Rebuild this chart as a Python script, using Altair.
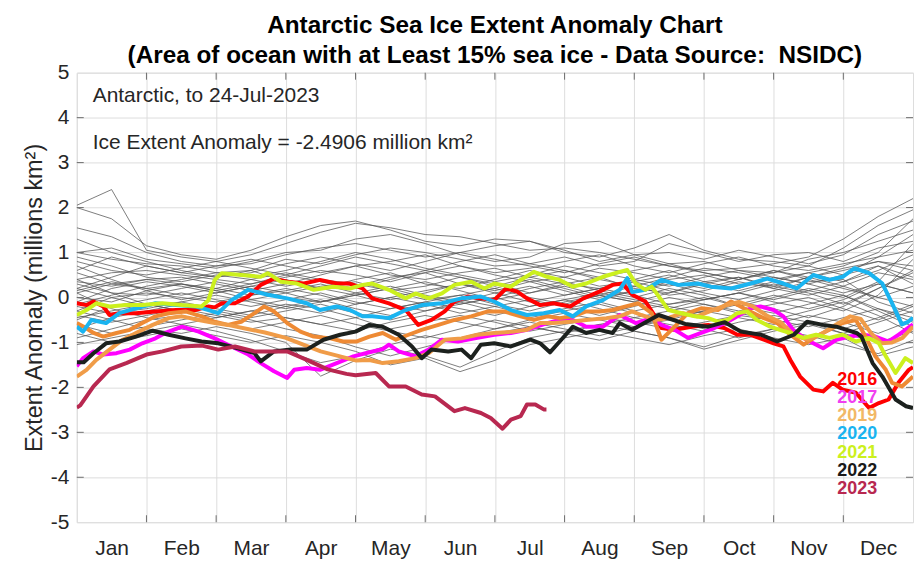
import altair as alt
import pandas as pd

# ---------------- data ----------------
MONTHS = ["Jan", "Feb", "Mar", "Apr", "May", "Jun", "Jul", "Aug", "Sep", "Oct", "Nov", "Dec"]
MONTH_BOUNDS = [0, 1, 2, 3, 4, 5, 6, 7, 8, 9, 10, 11, 12]
Y_TICKS = [-5, -4, -3, -2, -1, 0, 1, 2, 3, 4, 5]

# historical years (grey), sampled twice a month (x in months since 1 Jan)
GRAY_M = [0, 0.5, 1, 1.5, 2, 2.5, 3, 3.5, 4, 4.5, 5, 5.5, 6, 6.5, 7, 7.5, 8, 8.5, 9, 9.5, 10, 10.5, 11, 11.5, 12]
GRAY_LINES = [
    [2.05, 2.40, 1.05, 0.90, 0.80, 0.95, 1.20, 1.45, 1.65, 1.55, 1.40, 1.35, 1.20, 1.05, 1.10, 1.00, 0.85, 0.70, 0.60, 0.65, 0.75, 0.90, 1.30, 1.80, 2.20],
    [2.00, 1.75, 1.15, 0.95, 0.85, 1.05, 1.35, 1.60, 1.70, 1.50, 1.25, 1.15, 1.30, 1.25, 1.00, 0.90, 1.10, 1.40, 1.05, 0.85, 0.80, 0.70, 1.10, 1.60, 1.95],
    [1.55, 1.35, 1.00, 0.80, 0.70, 0.75, 0.95, 1.10, 1.20, 1.05, 0.90, 1.00, 1.15, 1.25, 1.05, 0.80, 0.95, 1.00, 0.85, 1.05, 0.90, 0.75, 0.95, 1.40, 1.70],
    [1.00, 1.10, 0.85, 0.75, 0.65, 0.80, 1.00, 1.05, 1.30, 1.40, 1.20, 0.95, 0.80, 0.90, 1.20, 1.25, 0.95, 0.75, 0.80, 0.60, 0.55, 0.85, 1.00, 1.25, 1.50],
    [1.00, 0.85, 0.75, 0.70, 0.55, 0.60, 0.85, 0.75, 0.95, 1.10, 1.00, 0.85, 0.70, 0.75, 0.90, 0.70, 0.80, 1.20, 1.00, 0.80, 0.95, 1.00, 0.80, 1.10, 1.25],
    [0.60, 0.90, 0.70, 0.55, 0.70, 0.85, 0.70, 0.55, 0.70, 0.80, 0.95, 0.70, 0.55, 0.65, 0.80, 0.95, 0.70, 0.55, 0.75, 0.90, 0.70, 0.60, 0.75, 0.90, 1.05],
    [0.40, 0.55, 0.60, 0.50, 0.40, 0.30, 0.45, 0.60, 0.50, 0.35, 0.55, 0.70, 0.50, 0.35, 0.45, 0.65, 0.55, 0.40, 0.50, 0.30, 0.25, 0.45, 0.60, 0.80, 0.70],
    [0.20, 0.45, 0.70, 0.55, 0.45, 0.60, 0.35, 0.20, 0.40, 0.55, 0.30, 0.20, 0.40, 0.60, 0.45, 0.25, 0.35, 0.50, 0.30, 0.15, 0.35, 0.55, 0.35, 0.60, 0.95],
    [0.90, 0.70, 0.45, 0.35, 0.50, 0.40, 0.25, 0.40, 0.30, 0.15, 0.25, 0.45, 0.30, 0.10, 0.30, 0.45, 0.20, 0.10, 0.35, 0.45, 0.20, 0.05, 0.25, 0.55, 0.40],
    [0.10, 0.30, 0.40, 0.45, 0.30, 0.15, 0.30, 0.50, 0.70, 0.50, 0.40, 0.55, 0.65, 0.45, 0.30, 0.20, 0.40, 0.60, 0.35, 0.20, 0.45, 0.30, 0.10, 0.30, 0.10],
    [-0.10, 0.20, 0.35, 0.25, 0.10, 0.25, 0.40, 0.20, 0.05, 0.20, 0.35, 0.15, -0.05, 0.10, 0.25, 0.05, -0.10, 0.10, 0.30, 0.45, 0.25, 0.10, -0.15, 0.20, 0.55],
    [0.55, 0.30, 0.20, 0.30, 0.20, 0.05, 0.15, 0.30, 0.10, -0.05, 0.10, 0.30, 0.20, 0.40, 0.20, 0.00, 0.15, 0.30, 0.10, -0.05, 0.15, 0.35, 0.40, -0.10, -0.35],
    [0.30, 0.10, 0.05, 0.20, 0.35, 0.20, 0.00, -0.10, 0.10, 0.25, 0.05, -0.10, 0.10, 0.25, 0.05, 0.20, 0.35, 0.15, -0.05, 0.10, 0.30, 0.15, 0.00, 0.35, 1.20],
    [0.00, -0.10, 0.15, 0.30, 0.15, -0.05, 0.10, 0.25, 0.35, 0.15, -0.05, 0.05, 0.20, 0.00, -0.15, 0.05, 0.25, 0.05, 0.15, 0.35, 0.20, 0.45, 0.25, 0.00, -0.20],
    [-0.30, 0.00, 0.10, 0.00, -0.10, 0.05, 0.20, 0.05, -0.15, 0.00, 0.15, 0.30, 0.10, -0.10, 0.05, 0.20, 0.05, -0.15, -0.05, 0.10, -0.05, 0.15, 0.35, 0.70, 0.45],
    [0.70, 0.40, 0.15, -0.05, 0.10, 0.25, 0.10, -0.10, 0.05, 0.20, 0.00, -0.15, 0.00, 0.20, 0.35, 0.15, 0.00, 0.20, 0.05, -0.20, 0.00, 0.20, 0.05, -0.30, -0.65],
    [-0.50, -0.20, -0.05, 0.10, -0.05, -0.20, -0.05, 0.10, -0.10, -0.25, -0.10, 0.05, -0.15, -0.30, -0.10, 0.05, -0.10, -0.25, -0.05, 0.10, -0.10, -0.25, -0.05, 0.30, 0.10],
    [0.20, 0.00, -0.20, -0.10, 0.05, -0.10, -0.25, -0.10, 0.05, -0.15, -0.30, -0.15, 0.00, -0.20, -0.05, 0.10, -0.05, -0.20, -0.35, -0.15, 0.05, -0.10, -0.30, 0.05, 0.85],
    [-0.20, -0.35, -0.25, -0.10, -0.25, -0.40, -0.20, -0.05, -0.25, -0.40, -0.20, -0.05, -0.20, -0.40, -0.25, -0.10, -0.30, -0.15, 0.00, -0.20, -0.35, -0.15, 0.05, -0.25, -0.55],
    [0.40, 0.10, -0.15, -0.30, -0.20, -0.05, -0.20, -0.35, -0.15, 0.00, -0.15, -0.35, -0.20, -0.05, -0.20, -0.40, -0.20, 0.00, -0.15, -0.30, -0.15, 0.00, -0.25, -0.50, -0.20],
    [-0.70, -0.45, -0.30, -0.15, -0.30, -0.45, -0.30, -0.15, -0.35, -0.50, -0.30, -0.10, -0.30, -0.45, -0.30, -0.15, -0.35, -0.50, -0.30, -0.10, -0.25, -0.45, -0.20, 0.20, 0.60],
    [-0.40, -0.55, -0.40, -0.25, -0.40, -0.55, -0.45, -0.60, -0.75, -0.55, -0.40, -0.55, -0.70, -0.50, -0.35, -0.50, -0.65, -0.45, -0.30, -0.45, -0.60, -0.40, -0.55, -0.80, -0.50],
    [-0.90, -0.70, -0.50, -0.40, -0.55, -0.70, -0.55, -0.40, -0.60, -0.75, -0.90, -0.70, -0.50, -0.65, -0.80, -0.60, -0.45, -0.60, -0.75, -0.55, -0.40, -0.55, -0.70, -0.45, -0.15],
    [-0.60, -0.80, -0.65, -0.50, -0.35, -0.50, -0.70, -0.85, -1.10, -1.30, -1.10, -0.90, -0.70, -0.55, -0.70, -0.85, -0.65, -0.50, -0.70, -0.90, -0.70, -0.55, -0.80, -1.00, -0.75],
    [-1.05, -0.90, -0.75, -0.60, -0.75, -0.95, -1.20, -1.45, -1.30, -1.05, -0.85, -1.00, -0.80, -0.65, -0.80, -0.95, -0.75, -0.90, -1.10, -0.85, -0.70, -0.85, -1.05, -1.25, -0.95],
    [-0.30, -0.50, -0.70, -0.80, -0.65, -0.80, -1.00, -1.75, -1.40, -1.15, -1.30, -1.55, -1.20, -0.90, -0.75, -0.60, -0.75, -0.90, -1.15, -0.95, -0.75, -0.60, -0.80, -0.55, -0.30],
    [-0.80, -1.00, -0.85, -0.70, -0.85, -1.00, -0.85, -1.00, -1.20, -1.50, -1.35, -1.65, -1.40, -1.05, -0.90, -0.75, -0.90, -1.05, -0.85, -0.70, -0.90, -1.05, -0.90, -1.30, -1.10],
    [0.10, -0.25, -0.45, -0.60, -0.45, -0.30, -0.45, -0.60, -0.45, -0.70, -0.55, -0.40, -0.55, -0.75, -0.60, -0.45, -0.55, -0.70, -0.55, -0.40, -0.50, -0.65, -0.45, -0.25, -0.45],
    [0.80, 0.60, 0.50, 0.65, 0.80, 0.65, 0.50, 0.70, 0.90, 0.75, 0.60, 0.80, 0.95, 0.75, 0.60, 0.45, 0.60, 0.75, 0.55, 0.40, 0.55, 0.70, 0.50, 0.90, 1.40],
    [-0.15, 0.05, 0.25, 0.40, 0.55, 0.45, 0.60, 0.80, 1.00, 0.85, 0.65, 0.50, 0.35, 0.50, 0.70, 0.55, 0.40, 0.25, 0.45, 0.60, 0.45, 0.30, 0.50, 0.70, 0.30],
    [0.35, 0.25, 0.40, 0.30, 0.15, 0.30, 0.50, 0.35, 0.20, 0.40, 0.60, 0.45, 0.25, 0.45, 0.60, 0.40, 0.25, 0.45, 0.65, 0.55, 0.40, 0.55, 0.70, 1.00, 1.75],
    [1.30, 1.00, 0.80, 0.60, 0.45, 0.55, 0.75, 0.90, 0.75, 0.60, 0.80, 1.00, 0.85, 0.70, 0.55, 0.75, 0.90, 0.70, 0.55, 0.40, 0.60, 0.45, 0.65, 0.80, 0.60],
    [-0.45, -0.30, -0.15, -0.30, -0.45, -0.30, -0.15, -0.25, -0.45, -0.25, -0.10, -0.25, -0.40, -0.20, -0.05, -0.25, -0.45, -0.30, -0.15, -0.35, -0.50, -0.30, -0.10, -0.40, -0.80],
    [0.15, 0.35, 0.20, 0.05, 0.20, 0.40, 0.55, 0.40, 0.25, 0.45, 0.55, 0.30, 0.15, 0.35, 0.15, -0.05, 0.15, 0.35, 0.20, 0.40, 0.60, 0.40, 0.20, 0.00, 0.25],
]

Y2016_M = [0, 0.14, 0.24, 0.38, 0.47, 0.61, 0.85, 1.13, 1.42, 1.7, 1.89, 1.98, 2.08, 2.27, 2.46, 2.64, 2.83, 3.02, 3.26, 3.49, 3.73, 3.92, 4.1, 4.24, 4.48, 4.72, 4.9, 5.09, 5.28, 5.42, 5.61, 5.8, 5.99, 6.16, 6.32, 6.46, 6.65, 6.84, 7.08, 7.27, 7.5, 7.69, 7.83, 7.97, 8.16, 8.3, 8.39, 8.58, 8.82, 9.06, 9.29, 9.48, 9.67, 9.86, 10.0, 10.14, 10.24, 10.38, 10.57, 10.71, 10.85, 10.99, 11.18, 11.37, 11.51, 11.65, 11.79, 11.94, 12.0]
Y2016_V = [-0.13, -0.17, -0.09, -0.2, -0.39, -0.35, -0.35, -0.31, -0.28, -0.28, -0.2, -0.22, -0.13, -0.13, 0.02, 0.28, 0.42, 0.35, 0.31, 0.39, 0.31, 0.31, 0.2, -0.02, -0.13, -0.28, -0.61, -0.5, -0.31, -0.09, 0.02, -0.02, -0.06, 0.2, 0.13, -0.02, -0.17, -0.13, -0.2, -0.02, 0.13, 0.28, 0.31, 0.06, -0.09, -0.42, -0.68, -0.72, -0.65, -0.61, -0.68, -0.83, -0.83, -0.94, -1.02, -1.09, -1.39, -1.76, -2.05, -2.09, -1.9, -2.05, -2.12, -2.46, -2.35, -2.27, -1.9, -1.61, -1.55]

Y2017_M = [0, 0.09, 0.24, 0.38, 0.57, 0.76, 0.94, 1.13, 1.27, 1.51, 1.75, 1.98, 2.22, 2.46, 2.64, 2.83, 3.02, 3.12, 3.3, 3.49, 3.73, 3.97, 4.2, 4.39, 4.48, 4.62, 4.86, 5.05, 5.24, 5.47, 5.71, 5.99, 6.23, 6.46, 6.75, 6.93, 7.12, 7.31, 7.55, 7.79, 8.02, 8.25, 8.39, 8.58, 8.77, 8.96, 9.15, 9.34, 9.48, 9.67, 9.81, 10.0, 10.14, 10.28, 10.47, 10.71, 10.9, 11.09, 11.28, 11.46, 11.65, 11.79, 12.0]
Y2017_V = [-1.53, -1.35, -1.2, -1.27, -1.24, -1.16, -1.02, -0.91, -0.79, -0.65, -0.76, -0.91, -1.09, -1.27, -1.46, -1.64, -1.79, -1.61, -1.57, -1.61, -1.46, -1.31, -1.22, -1.15, -1.05, -1.2, -1.31, -1.16, -0.94, -0.98, -0.91, -0.83, -0.79, -0.72, -0.57, -0.5, -0.5, -0.65, -0.65, -0.39, -0.57, -0.46, -0.61, -0.72, -0.9, -0.79, -0.68, -0.54, -0.42, -0.24, -0.2, -0.28, -0.42, -0.72, -0.94, -1.13, -0.94, -0.87, -0.83, -0.87, -0.98, -0.83, -0.6]

Y2018_M = [0, 0.1, 0.24, 0.38, 0.57, 0.76, 0.94, 1.13, 1.32, 1.56, 1.79, 1.98, 2.17, 2.36, 2.55, 2.69, 2.83, 3.02, 3.21, 3.4, 3.64, 3.82, 4.01, 4.2, 4.39, 4.58, 4.76, 4.95, 5.19, 5.42, 5.66, 5.9, 6.13, 6.37, 6.56, 6.75, 6.93, 7.12, 7.31, 7.5, 7.69, 7.88, 8.06, 8.25, 8.39, 8.58, 8.77, 8.96, 9.2, 9.39, 9.62, 9.86, 10.05, 10.24, 10.43, 10.61, 10.8, 10.99, 11.18, 11.32, 11.46, 11.61, 11.7, 11.84, 12.0]
Y2018_V = [-0.57, -0.65, -0.79, -0.87, -0.79, -0.72, -0.57, -0.42, -0.35, -0.31, -0.42, -0.54, -0.61, -0.54, -0.35, -0.2, -0.31, -0.57, -0.76, -0.87, -0.91, -0.98, -0.98, -0.87, -0.79, -0.94, -0.83, -0.72, -0.61, -0.5, -0.42, -0.31, -0.31, -0.42, -0.5, -0.42, -0.46, -0.42, -0.31, -0.31, -0.28, -0.2, -0.13, -0.35, -0.94, -0.65, -0.35, -0.24, -0.28, -0.09, -0.28, -0.46, -0.57, -0.83, -1.05, -0.87, -0.72, -0.57, -0.5, -0.87, -1.31, -1.61, -1.9, -1.98, -1.76]

Y2019_M = [0, 0.14, 0.28, 0.47, 0.66, 0.85, 1.09, 1.32, 1.51, 1.75, 1.98, 2.2, 2.45, 2.7, 3.0, 3.25, 3.5, 3.75, 4.0, 4.2, 4.39, 4.62, 4.86, 5.05, 5.28, 5.52, 5.75, 5.99, 6.27, 6.46, 6.65, 6.84, 7.08, 7.31, 7.6, 7.79, 7.97, 8.1, 8.3, 8.5, 8.7, 8.9, 9.1, 9.3, 9.5, 9.7, 9.9, 10.1, 10.3, 10.5, 10.7, 10.9, 11.1, 11.25, 11.4, 11.55, 11.7, 11.85, 12.0]
Y2019_V = [-1.76, -1.61, -1.39, -1.16, -0.94, -0.79, -0.61, -0.46, -0.42, -0.5, -0.57, -0.62, -0.7, -0.78, -0.9, -1.05, -1.2, -1.3, -1.4, -1.39, -1.46, -1.42, -1.35, -1.24, -0.94, -0.91, -0.83, -0.79, -0.76, -0.72, -0.57, -0.57, -0.54, -0.5, -0.46, -0.42, -0.31, -0.39, -0.5, -0.45, -0.35, -0.42, -0.3, -0.18, -0.1, -0.2, -0.4, -0.55, -0.85, -0.94, -0.8, -0.6, -0.42, -0.48, -0.8, -1.02, -1.0, -0.9, -0.65]

Y2020_M = [0, 0.09, 0.21, 0.42, 0.61, 0.85, 1.13, 1.42, 1.7, 1.89, 2.03, 2.22, 2.46, 2.74, 3.02, 3.3, 3.49, 3.73, 3.92, 4.1, 4.24, 4.48, 4.72, 4.95, 5.24, 5.52, 5.8, 5.99, 6.23, 6.46, 6.7, 6.93, 7.12, 7.31, 7.55, 7.79, 7.9, 7.97, 8.16, 8.39, 8.63, 8.91, 9.1, 9.39, 9.67, 9.91, 10.14, 10.33, 10.57, 10.8, 10.99, 11.16, 11.37, 11.56, 11.7, 11.84, 11.92, 12.0]
Y2020_V = [-0.65, -0.76, -0.5, -0.57, -0.35, -0.24, -0.13, -0.17, -0.2, -0.28, -0.35, -0.06, 0.17, 0.06, -0.02, -0.13, -0.28, -0.2, -0.28, -0.42, -0.42, -0.46, -0.28, -0.17, -0.13, -0.02, 0.02, -0.09, -0.28, -0.39, -0.35, -0.28, -0.42, -0.2, -0.06, 0.17, 0.43, 0.12, 0.17, 0.39, 0.28, 0.31, 0.24, 0.2, 0.31, 0.42, 0.31, 0.2, 0.5, 0.39, 0.46, 0.65, 0.54, 0.31, -0.13, -0.6, -0.55, -0.45]

Y2021_M = [0, 0.14, 0.28, 0.47, 0.71, 0.94, 1.23, 1.51, 1.79, 1.89, 1.98, 2.08, 2.36, 2.64, 2.74, 2.93, 3.16, 3.4, 3.68, 3.92, 4.1, 4.24, 4.48, 4.72, 4.86, 5.05, 5.24, 5.42, 5.66, 5.85, 5.99, 6.23, 6.37, 6.56, 6.75, 6.93, 7.12, 7.31, 7.55, 7.79, 7.9, 8.02, 8.16, 8.25, 8.39, 8.49, 8.68, 8.87, 9.06, 9.2, 9.34, 9.48, 9.62, 9.76, 9.95, 10.09, 10.24, 10.43, 10.61, 10.8, 10.99, 11.18, 11.37, 11.51, 11.61, 11.75, 11.89, 12.0]
Y2021_V = [-0.39, -0.28, -0.13, -0.2, -0.17, -0.17, -0.13, -0.17, -0.2, -0.06, 0.39, 0.54, 0.5, 0.46, 0.54, 0.35, 0.31, 0.17, 0.24, 0.2, 0.28, 0.31, 0.17, -0.02, 0.09, -0.02, 0.09, 0.28, 0.35, 0.2, 0.31, 0.24, 0.39, 0.57, 0.46, 0.39, 0.24, 0.31, 0.46, 0.57, 0.61, 0.31, 0.17, 0.24, -0.06, -0.28, -0.35, -0.42, -0.46, -0.54, -0.5, -0.35, -0.31, -0.5, -0.65, -0.72, -0.79, -0.9, -0.83, -0.9, -0.83, -0.98, -0.9, -1.02, -1.31, -1.68, -1.35, -1.46]

Y2022_M = [0, 0.1, 0.24, 0.42, 0.61, 0.85, 1.09, 1.32, 1.56, 1.79, 2.03, 2.31, 2.55, 2.64, 2.83, 3.07, 3.3, 3.54, 3.78, 4.0, 4.2, 4.39, 4.62, 4.81, 4.95, 5.09, 5.33, 5.52, 5.66, 5.8, 5.99, 6.23, 6.51, 6.65, 6.79, 6.93, 7.12, 7.31, 7.5, 7.69, 7.79, 7.97, 8.35, 8.73, 9.06, 9.3, 9.53, 9.82, 10.05, 10.29, 10.48, 10.71, 10.9, 11.19, 11.26, 11.42, 11.56, 11.75, 11.9, 12.0]
Y2022_V = [-1.44, -1.44, -1.24, -1.02, -0.98, -0.87, -0.74, -0.83, -0.91, -0.98, -1.02, -1.13, -1.24, -1.42, -1.2, -1.16, -1.16, -0.94, -0.83, -0.76, -0.61, -0.65, -0.83, -1.09, -1.35, -1.16, -1.2, -1.16, -1.35, -1.05, -1.02, -1.09, -0.94, -1.02, -1.22, -0.98, -0.65, -0.79, -0.72, -0.79, -0.57, -0.72, -0.39, -0.59, -0.65, -0.55, -0.76, -0.83, -0.98, -0.83, -0.54, -0.61, -0.65, -0.79, -0.87, -1.46, -1.76, -2.27, -2.42, -2.46]

Y2023_M = [0, 0.05, 0.24, 0.47, 0.71, 1.0, 1.23, 1.5, 1.8, 2.03, 2.27, 2.55, 2.8, 3.02, 3.3, 3.6, 3.87, 4.0, 4.29, 4.48, 4.72, 4.95, 5.14, 5.42, 5.57, 5.8, 5.94, 6.11, 6.23, 6.37, 6.46, 6.58, 6.7, 6.74]
Y2023_V = [-2.45, -2.4, -1.98, -1.6, -1.46, -1.27, -1.2, -1.09, -1.07, -1.16, -1.09, -1.2, -1.2, -1.2, -1.39, -1.6, -1.7, -1.73, -1.68, -1.98, -1.98, -2.16, -2.2, -2.53, -2.46, -2.57, -2.68, -2.92, -2.72, -2.64, -2.38, -2.38, -2.49, -2.49]

YEARS = ["2016", "2017", "2018", "2019", "2020", "2021", "2022", "2023"]
SERIES_M = [Y2016_M, Y2017_M, Y2018_M, Y2019_M, Y2020_M, Y2021_M, Y2022_M, Y2023_M]
SERIES_V = [Y2016_V, Y2017_V, Y2018_V, Y2019_V, Y2020_V, Y2021_V, Y2022_V, Y2023_V]
LINE_COLORS = ["#ff0000", "#ff00ff", "#ee8a34", "#f09c48", "#1ab4f0", "#ccf01e", "#1c211e", "#b82850"]

LEGEND_YEARS = ["2016", "2017", "2019", "2020", "2021", "2022", "2023"]
LEGEND_COLORS = ["#ff0000", "#f040f0", "#f2b866", "#1ab4f0", "#ccf01e", "#1a1a1a", "#b82850"]

TITLE_LINES = ["Antarctic Sea Ice Extent Anomaly Chart",
               "(Area of ocean with at Least 15% sea ice - Data Source:\u00a0 NSIDC)"]
NOTE_1 = "Antarctic, to 24-Jul-2023"
NOTE_2 = "Ice Extent Anomaly = -2.4906 million km\u00b2"
Y_TITLE = "Extent Anomaly (millions km\u00b2)"

# ---------------- chart ----------------
W, H = 839, 451
FONT = "Liberation Sans"
TXT = "#262626"
FRAME = "#6e6e6e"

xs = alt.Scale(domain=[0, 12], nice=False, zero=False)
ys = alt.Scale(domain=[-5, 5], nice=False, zero=False)

month_expr = "[" + ",".join("'%s'" % m for m in MONTHS) + "][datum.value]"
X = alt.X("m:Q", scale=xs, axis=alt.Axis(
    values=MONTH_BOUNDS[:-1], labelExpr=month_expr, labelOffset=W / 24,
    ticks=False, domain=False, grid=True, title=None, labelAngle=0,
    labelFontSize=21, labelFont=FONT, labelColor=TXT, labelPadding=15,
    labelFlush=False, labelOverlap=False, labelBound=False))
Y = alt.Y("v:Q", scale=ys, axis=alt.Axis(
    values=Y_TICKS, labelExpr="'' + datum.value", ticks=False, domain=False, grid=True,
    labelFontSize=21, labelFont=FONT, labelColor=TXT, labelPadding=8,
    title=Y_TITLE, titleFontSize=23.5, titleFont=FONT, titleColor=TXT,
    titleFontWeight="normal", titlePadding=4))

gray_rows = []
for gi, vals in enumerate(GRAY_LINES):
    for m, v in zip(GRAY_M, vals):
        gray_rows.append({"g": gi, "m": m, "v": v})
gray_df = pd.DataFrame(gray_rows)

layers = [
    alt.Chart(gray_df).mark_line(color="#555555", strokeWidth=0.9, opacity=0.85, clip=True)
    .encode(x=X, y=Y, detail="g:N")
]

for year, ms, vs, col in zip(YEARS, SERIES_M, SERIES_V, LINE_COLORS):
    df = pd.DataFrame({"m": ms, "v": vs})
    layers.append(
        alt.Chart(df).mark_line(color=col, strokeWidth=4, strokeJoin="round", clip=True)
        .encode(x=X, y=Y)
    )

# inward tick marks (MATLAB style box ticks)
bt = pd.DataFrame({"m": MONTH_BOUNDS[1:-1]})
layers.append(alt.Chart(bt).mark_rule(color=FRAME).encode(x=X, y=alt.value(H), y2=alt.value(H - 7)))
layers.append(alt.Chart(bt).mark_rule(color=FRAME).encode(x=X, y=alt.value(0), y2=alt.value(7)))
lt = pd.DataFrame({"v": Y_TICKS[1:-1]})
layers.append(alt.Chart(lt).mark_rule(color=FRAME).encode(y=Y, x=alt.value(0), x2=alt.value(7)))
layers.append(alt.Chart(lt).mark_rule(color=FRAME).encode(y=Y, x=alt.value(W - 7), x2=alt.value(W)))

# annotations
for txt, ypx in [(NOTE_1, 29.7), (NOTE_2, 76.3)]:
    layers.append(
        alt.Chart(pd.DataFrame({"t": [txt]})).mark_text(
            align="left", baseline="alphabetic", fontSize=21, font=FONT, color=TXT)
        .encode(x=alt.value(16), y=alt.value(ypx), text="t:N")
    )

# colour key
for i, (yr, col) in enumerate(zip(LEGEND_YEARS, LEGEND_COLORS)):
    layers.append(
        alt.Chart(pd.DataFrame({"t": [yr]})).mark_text(
            align="right", baseline="alphabetic", fontSize=18, fontWeight="bold",
            font=FONT, color=col)
        .encode(x=alt.value(803), y=alt.value(313 + i * 18.3), text="t:N")
    )

chart = alt.layer(*layers).properties(
    width=W, height=H,
    title=alt.TitleParams(text=TITLE_LINES, fontSize=24.4, fontWeight="bold", font=FONT,
                          color="black", anchor="middle", offset=9, dy=16, lineHeight=30),
    autosize=alt.AutoSizeParams(type="none"),
    padding={"left": 69, "top": 64, "right": 2, "bottom": 40},
).configure_view(
    stroke=FRAME, strokeWidth=1
).configure_axis(
    gridColor="#e2e2e2", gridWidth=1
).configure(background="white")

chart.save("out.html", embed_options={"renderer": "svg", "actions": False})
